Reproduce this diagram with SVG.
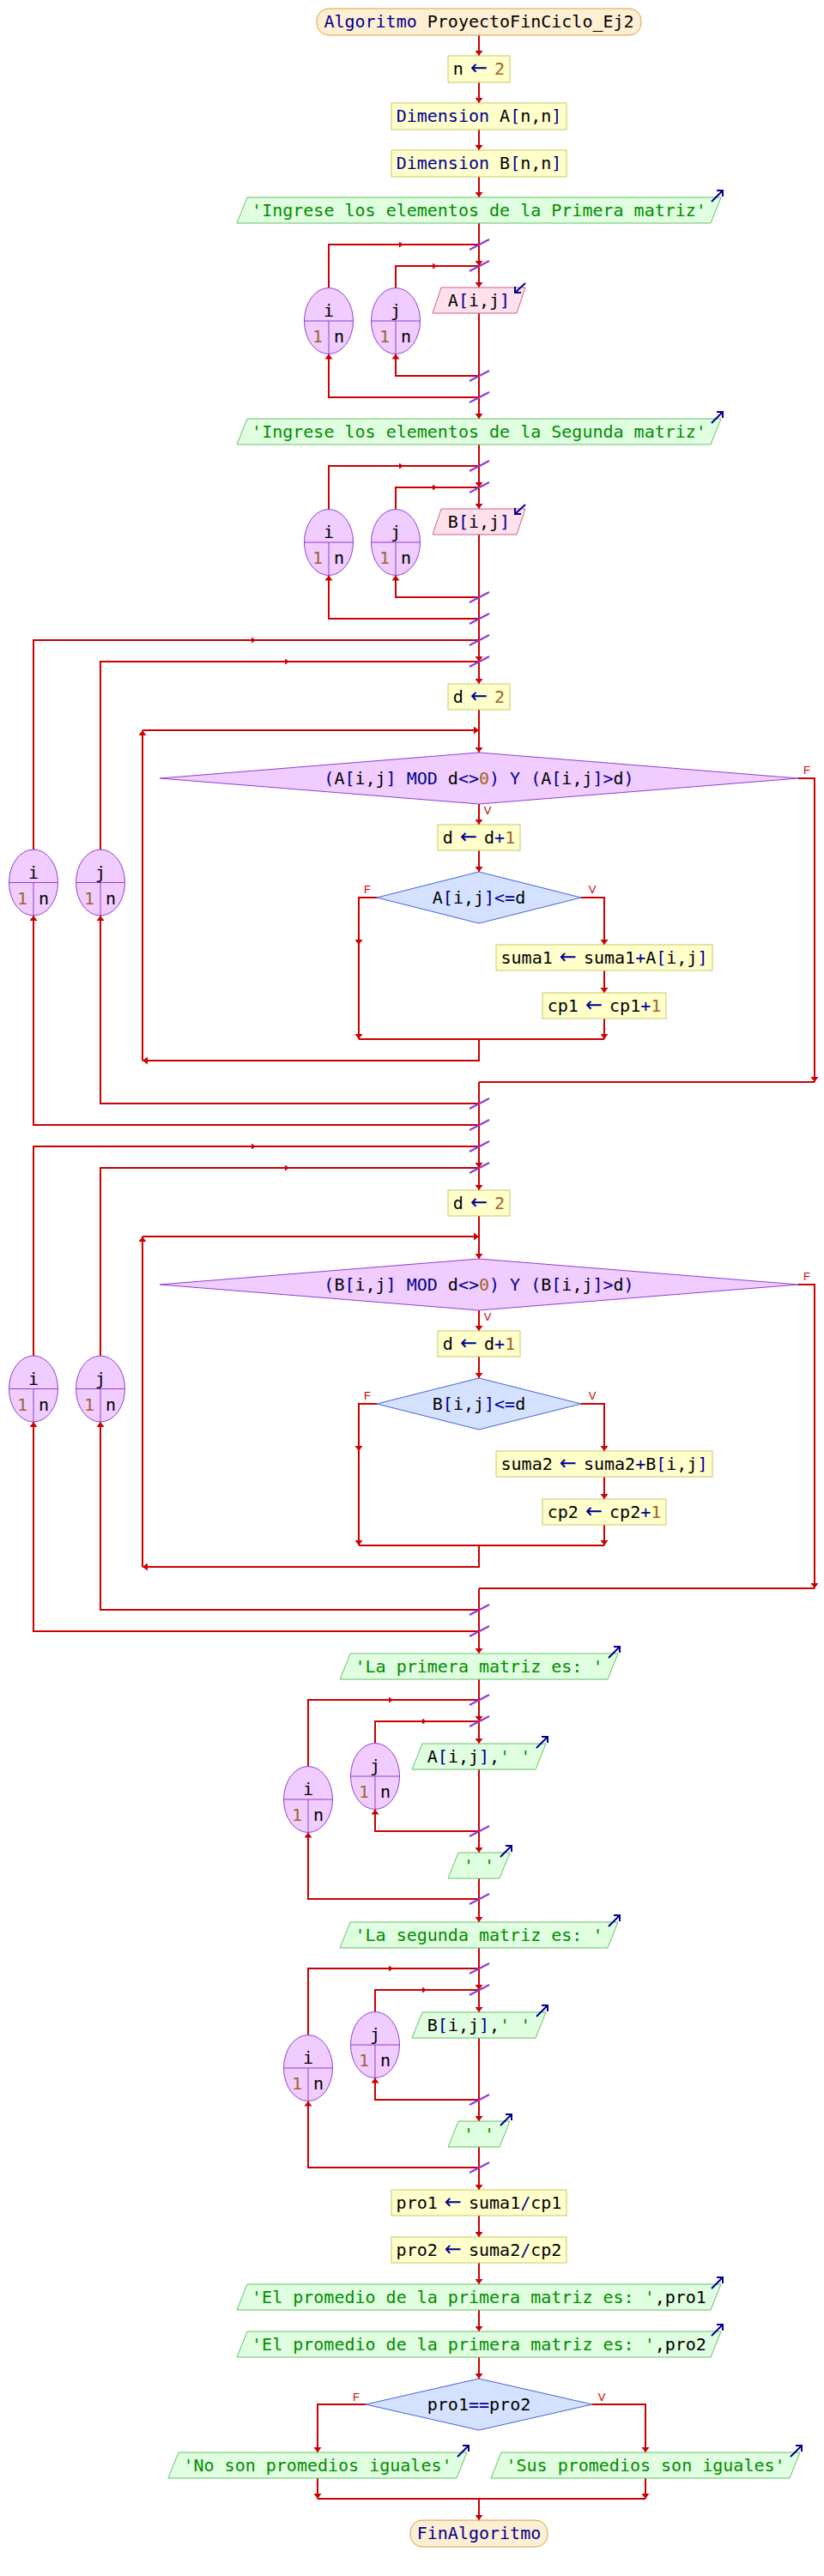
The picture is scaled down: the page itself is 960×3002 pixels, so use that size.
<svg xmlns="http://www.w3.org/2000/svg" xmlns:xlink="http://www.w3.org/1999/xlink" width="960" height="3002" viewBox="0 0 960 3002">
<defs>
<style>
.t{font-family:"DejaVu Sans Mono","Liberation Mono",monospace;font-size:20px;text-anchor:middle;fill:#000}
.k{fill:#000090}
.ar{font-family:"DejaVu Sans","Liberation Sans",sans-serif;font-size:24px;fill:#000090}
.s{fill:#008c00}
.n{fill:#a06428}
.lb{font-family:"Liberation Sans","DejaVu Sans",sans-serif;font-size:13px;fill:#cc0000;text-anchor:middle}
.c path{fill:none;stroke:#cc0000;stroke-width:2}
.box{fill:#ffffcc;stroke:#c8c864;stroke-width:1}
.term{fill:#ffefd2;stroke:#d4a050;stroke-width:1}
.out{fill:#e0ffe0;stroke:#66c066;stroke-width:1}
.inp{fill:#ffe0ec;stroke:#c8648c;stroke-width:1}
.dp{fill:#f0ccff;stroke:#9040d0;stroke-width:1}
.db{fill:#d4e2ff;stroke:#4664d2;stroke-width:1}
.ov{fill:#f0ccff;stroke:#9040d0;stroke-width:1}
.ovl{stroke:#9040d0;stroke-width:1}
.tk{stroke:#9038d0;stroke-width:2}
.io{fill:none;stroke:#000090;stroke-width:2}
</style>
<marker id="a" viewBox="0 0 6 9" refX="6" refY="4.5" markerWidth="6" markerHeight="9" markerUnits="userSpaceOnUse" orient="auto"><path d="M0,0 L6,4.5 L0,9 z" fill="#cc0000"/></marker>
<marker id="m" viewBox="0 0 5 7" refX="5" refY="3.5" markerWidth="5" markerHeight="7" markerUnits="userSpaceOnUse" orient="auto"><path d="M0,0 L5,3.5 L0,7 z" fill="#cc0000"/></marker>
<g id="oa"><path class="io" d="M-11,5 L2,-8 M-5,-8 H2 V-1"/></g>
<g id="ia"><path class="io" d="M0,-5 L-12,6 M-12,-1 V6 H-5"/></g>
<line id="tick" x1="-11" y1="6" x2="12" y2="-6" class="tk"/>
</defs>
<rect width="960" height="3002" fill="#ffffff"/>

<g id="connectors" class="c">
<path d="M558,41 V65" marker-end="url(#a)"/>
<path d="M558,96 V120" marker-end="url(#a)"/>
<path d="M558,151 V175" marker-end="url(#a)"/>
<path d="M558,206 V230" marker-end="url(#a)"/>
<path d="M558,260 V310" marker-end="url(#a)"/>
<path d="M558,310 V335" marker-end="url(#a)"/>
<path d="M558,365 V488" marker-end="url(#a)"/>
<path d="M383,335.5 V285 H470" marker-end="url(#m)"/><path d="M470,285 H558"/>
<path d="M461,335.5 V310 H509" marker-end="url(#m)"/><path d="M509,310 H558"/>
<path d="M558,438 H461 V412.5" marker-end="url(#a)"/>
<path d="M558,463 H383 V412.5" marker-end="url(#a)"/>
<path d="M558,518 V568" marker-end="url(#a)"/>
<path d="M558,568 V593" marker-end="url(#a)"/>
<path d="M558,623 V771" marker-end="url(#a)"/>
<path d="M383,593.5 V543 H470" marker-end="url(#m)"/><path d="M470,543 H558"/>
<path d="M461,593.5 V568 H509" marker-end="url(#m)"/><path d="M509,568 H558"/>
<path d="M558,696 H461 V670.5" marker-end="url(#a)"/>
<path d="M558,721 H383 V670.5" marker-end="url(#a)"/>
<path d="M39,990 V746 H298" marker-end="url(#m)"/><path d="M298,746 H558"/>
<path d="M117,990 V771 H337" marker-end="url(#m)"/><path d="M337,771 H558"/>
<path d="M558,771 V797" marker-end="url(#a)"/>
<path d="M558,827 V877" marker-end="url(#a)"/>
<path d="M558,937 V961" marker-end="url(#a)"/>
<path d="M558,991 V1016" marker-end="url(#a)"/>
<path d="M439,1046 H418 V1101" marker-end="url(#a)"/>
<path d="M418,1101 V1211" marker-end="url(#a)"/>
<path d="M677,1046 H704 V1101" marker-end="url(#a)"/>
<path d="M704,1131 V1157" marker-end="url(#a)"/>
<path d="M704,1187 V1211" marker-end="url(#a)"/>
<path d="M418,1211 H704"/>
<path d="M558,1211 V1236 H166" marker-end="url(#a)"/>
<path d="M166,1236 V851" marker-end="url(#a)"/>
<path d="M166,851 H558" marker-end="url(#a)"/>
<path d="M930,907 H949 V1261" marker-end="url(#a)"/>
<path d="M949,1261 H558"/>
<path d="M558,1261 V1361" marker-end="url(#a)"/>
<path d="M558,1286 H117 V1067" marker-end="url(#a)"/>
<path d="M558,1311 H39 V1067" marker-end="url(#a)"/>
<path d="M39,1580 V1336 H298" marker-end="url(#m)"/><path d="M298,1336 H558"/>
<path d="M117,1580 V1361 H337" marker-end="url(#m)"/><path d="M337,1361 H558"/>
<path d="M558,1361 V1387" marker-end="url(#a)"/>
<path d="M558,1417 V1467" marker-end="url(#a)"/>
<path d="M558,1527 V1551" marker-end="url(#a)"/>
<path d="M558,1581 V1606" marker-end="url(#a)"/>
<path d="M439,1636 H418 V1691" marker-end="url(#a)"/>
<path d="M418,1691 V1801" marker-end="url(#a)"/>
<path d="M677,1636 H704 V1691" marker-end="url(#a)"/>
<path d="M704,1721 V1747" marker-end="url(#a)"/>
<path d="M704,1777 V1801" marker-end="url(#a)"/>
<path d="M418,1801 H704"/>
<path d="M558,1801 V1826 H166" marker-end="url(#a)"/>
<path d="M166,1826 V1441" marker-end="url(#a)"/>
<path d="M166,1441 H558" marker-end="url(#a)"/>
<path d="M930,1497 H949 V1851" marker-end="url(#a)"/>
<path d="M949,1851 H558"/>
<path d="M558,1851 V1927" marker-end="url(#a)"/>
<path d="M558,1876 H117 V1657" marker-end="url(#a)"/>
<path d="M558,1901 H39 V1657" marker-end="url(#a)"/>
<path d="M558,1957 V2006" marker-end="url(#a)"/>
<path d="M558,2006 V2032" marker-end="url(#a)"/>
<path d="M558,2062 V2159" marker-end="url(#a)"/>
<path d="M558,2189 V2240" marker-end="url(#a)"/>
<path d="M359,2058.5 V1981 H458" marker-end="url(#m)"/><path d="M458,1981 H558"/>
<path d="M437,2031.5 V2006 H497" marker-end="url(#m)"/><path d="M497,2006 H558"/>
<path d="M558,2134 H437 V2108.5" marker-end="url(#a)"/>
<path d="M558,2213 H359 V2135.5" marker-end="url(#a)"/>
<path d="M558,2270 V2319" marker-end="url(#a)"/>
<path d="M558,2319 V2345" marker-end="url(#a)"/>
<path d="M558,2375 V2472" marker-end="url(#a)"/>
<path d="M558,2502 V2552" marker-end="url(#a)"/>
<path d="M359,2371.5 V2294 H458" marker-end="url(#m)"/><path d="M458,2294 H558"/>
<path d="M437,2344.5 V2319 H497" marker-end="url(#m)"/><path d="M497,2319 H558"/>
<path d="M558,2447 H437 V2421.5" marker-end="url(#a)"/>
<path d="M558,2526 H359 V2448.5" marker-end="url(#a)"/>
<path d="M558,2582 V2607" marker-end="url(#a)"/>
<path d="M558,2637 V2662" marker-end="url(#a)"/>
<path d="M558,2692 V2717" marker-end="url(#a)"/>
<path d="M558,2747 V2772" marker-end="url(#a)"/>
<path d="M426,2802 H370 V2858" marker-end="url(#a)"/>
<path d="M690,2802 H752 V2858" marker-end="url(#a)"/>
<path d="M370,2888 V2912" marker-end="url(#a)"/>
<path d="M752,2888 V2912" marker-end="url(#a)"/>
<path d="M370,2912 H752"/>
<path d="M558,2912 V2937" marker-end="url(#a)"/>
</g>

<g id="ticks">
<use href="#tick" x="558" y="285"/><use href="#tick" x="558" y="310"/><use href="#tick" x="558" y="438"/><use href="#tick" x="558" y="463"/>
<use href="#tick" x="558" y="543"/><use href="#tick" x="558" y="568"/><use href="#tick" x="558" y="696"/><use href="#tick" x="558" y="721"/>
<use href="#tick" x="558" y="746"/><use href="#tick" x="558" y="771"/><use href="#tick" x="558" y="1286"/><use href="#tick" x="558" y="1311"/>
<use href="#tick" x="558" y="1336"/><use href="#tick" x="558" y="1361"/><use href="#tick" x="558" y="1876"/><use href="#tick" x="558" y="1901"/>
<use href="#tick" x="558" y="1981"/><use href="#tick" x="558" y="2006"/><use href="#tick" x="558" y="2134"/><use href="#tick" x="558" y="2213"/>
<use href="#tick" x="558" y="2294"/><use href="#tick" x="558" y="2319"/><use href="#tick" x="558" y="2447"/><use href="#tick" x="558" y="2526"/>
</g>

<g id="labels">
<text class="lb" x="568" y="949">V</text>
<text class="lb" x="940" y="902">F</text>
<text class="lb" x="428" y="1041">F</text>
<text class="lb" x="690" y="1041">V</text>
<text class="lb" x="568" y="1539">V</text>
<text class="lb" x="940" y="1492">F</text>
<text class="lb" x="428" y="1631">F</text>
<text class="lb" x="690" y="1631">V</text>
<text class="lb" x="415" y="2798">F</text>
<text class="lb" x="701" y="2798">V</text>
</g>

<g id="start"><rect class="term" x="369" y="10" width="378" height="31" rx="14"/><text class="t" x="558" y="32"><tspan class="k">Algoritmo</tspan> ProyectoFinCiclo_Ej2</text></g>
<g id="n-assign"><rect class="box" x="522" y="65" width="72" height="31"/><text class="t" x="558" y="87">n <tspan class="ar" dx="-4">←</tspan><tspan dx="-4"> </tspan><tspan class="n">2</tspan></text></g>
<g id="dimA"><rect class="box" x="456" y="120" width="204" height="31"/><text class="t" x="558" y="142"><tspan class="k">Dimension</tspan> A<tspan class="k">[</tspan>n,n<tspan class="k">]</tspan></text></g>
<g id="dimB"><rect class="box" x="456" y="175" width="204" height="31"/><text class="t" x="558" y="197"><tspan class="k">Dimension</tspan> B<tspan class="k">[</tspan>n,n<tspan class="k">]</tspan></text></g>

<g id="out-ingrese1"><polygon class="out" points="276,260 288,230 840,230 828,260"/><text class="t s" x="558" y="252">'Ingrese los elementos de la Primera matriz'</text><use href="#oa" x="840" y="230"/></g>
<g id="loop1-i"><ellipse class="ov" cx="383" cy="374" rx="28.5" ry="38.5"/><line class="ovl" x1="354.5" y1="374" x2="411.5" y2="374"/><line class="ovl" x1="383" y1="374" x2="383" y2="412.5"/><text class="t" x="383" y="369">i</text><text class="t n" x="370" y="399">1</text><text class="t" x="395" y="399">n</text></g>
<g id="loop1-j"><ellipse class="ov" cx="461" cy="374" rx="28.5" ry="38.5"/><line class="ovl" x1="432.5" y1="374" x2="489.5" y2="374"/><line class="ovl" x1="461" y1="374" x2="461" y2="412.5"/><text class="t" x="461" y="369">j</text><text class="t n" x="448" y="399">1</text><text class="t" x="473" y="399">n</text></g>
<g id="read-A"><polygon class="inp" points="504,365 514,335 612,335 602,365"/><text class="t" x="558" y="357">A<tspan class="k">[</tspan>i,j<tspan class="k">]</tspan></text><use href="#ia" x="612" y="335"/></g>

<g id="out-ingrese2"><polygon class="out" points="276,518 288,488 840,488 828,518"/><text class="t s" x="558" y="510">'Ingrese los elementos de la Segunda matriz'</text><use href="#oa" x="840" y="488"/></g>
<g id="loop2-i"><ellipse class="ov" cx="383" cy="632" rx="28.5" ry="38.5"/><line class="ovl" x1="354.5" y1="632" x2="411.5" y2="632"/><line class="ovl" x1="383" y1="632" x2="383" y2="670.5"/><text class="t" x="383" y="627">i</text><text class="t n" x="370" y="657">1</text><text class="t" x="395" y="657">n</text></g>
<g id="loop2-j"><ellipse class="ov" cx="461" cy="632" rx="28.5" ry="38.5"/><line class="ovl" x1="432.5" y1="632" x2="489.5" y2="632"/><line class="ovl" x1="461" y1="632" x2="461" y2="670.5"/><text class="t" x="461" y="627">j</text><text class="t n" x="448" y="657">1</text><text class="t" x="473" y="657">n</text></g>
<g id="read-B"><polygon class="inp" points="504,623 514,593 612,593 602,623"/><text class="t" x="558" y="615">B<tspan class="k">[</tspan>i,j<tspan class="k">]</tspan></text><use href="#ia" x="612" y="593"/></g>

<g id="loopA-i"><ellipse class="ov" cx="39" cy="1028.5" rx="28.5" ry="38.5"/><line class="ovl" x1="10.5" y1="1028.5" x2="67.5" y2="1028.5"/><line class="ovl" x1="39" y1="1028.5" x2="39" y2="1067"/><text class="t" x="39" y="1023.5">i</text><text class="t n" x="26" y="1053.5">1</text><text class="t" x="51" y="1053.5">n</text></g>
<g id="loopA-j"><ellipse class="ov" cx="117" cy="1028.5" rx="28.5" ry="38.5"/><line class="ovl" x1="88.5" y1="1028.5" x2="145.5" y2="1028.5"/><line class="ovl" x1="117" y1="1028.5" x2="117" y2="1067"/><text class="t" x="117" y="1023.5">j</text><text class="t n" x="104" y="1053.5">1</text><text class="t" x="129" y="1053.5">n</text></g>
<g id="dA-init"><rect class="box" x="522" y="797" width="72" height="30"/><text class="t" x="558" y="819">d <tspan class="ar" dx="-4">←</tspan><tspan dx="-4"> </tspan><tspan class="n">2</tspan></text></g>
<g id="whileA"><polygon class="dp" points="186,907 558,877 930,907 558,937"/><text class="t" x="558" y="914"><tspan class="k">(</tspan>A<tspan class="k">[</tspan>i,j<tspan class="k">] MOD </tspan>d<tspan class="k">&lt;&gt;</tspan><tspan class="n">0</tspan><tspan class="k">) Y (</tspan>A<tspan class="k">[</tspan>i,j<tspan class="k">]&gt;</tspan>d<tspan class="k">)</tspan></text></g>
<g id="dA-inc"><rect class="box" x="510" y="961" width="96" height="30"/><text class="t" x="558" y="983">d <tspan class="ar" dx="-4">←</tspan><tspan dx="-4"> </tspan>d<tspan class="k">+</tspan><tspan class="n">1</tspan></text></g>
<g id="ifA"><polygon class="db" points="439,1046 558,1016 677,1046 558,1076"/><text class="t" x="558" y="1053">A<tspan class="k">[</tspan>i,j<tspan class="k">]&lt;=</tspan>d</text></g>
<g id="suma1"><rect class="box" x="578" y="1101" width="252" height="30"/><text class="t" x="704" y="1123">suma1 <tspan class="ar" dx="-4">←</tspan><tspan dx="-4"> </tspan>suma1<tspan class="k">+</tspan>A<tspan class="k">[</tspan>i,j<tspan class="k">]</tspan></text></g>
<g id="cp1"><rect class="box" x="632" y="1157" width="144" height="30"/><text class="t" x="704" y="1179">cp1 <tspan class="ar" dx="-4">←</tspan><tspan dx="-4"> </tspan>cp1<tspan class="k">+</tspan><tspan class="n">1</tspan></text></g>

<g id="loopB-i"><ellipse class="ov" cx="39" cy="1618.5" rx="28.5" ry="38.5"/><line class="ovl" x1="10.5" y1="1618.5" x2="67.5" y2="1618.5"/><line class="ovl" x1="39" y1="1618.5" x2="39" y2="1657"/><text class="t" x="39" y="1613.5">i</text><text class="t n" x="26" y="1643.5">1</text><text class="t" x="51" y="1643.5">n</text></g>
<g id="loopB-j"><ellipse class="ov" cx="117" cy="1618.5" rx="28.5" ry="38.5"/><line class="ovl" x1="88.5" y1="1618.5" x2="145.5" y2="1618.5"/><line class="ovl" x1="117" y1="1618.5" x2="117" y2="1657"/><text class="t" x="117" y="1613.5">j</text><text class="t n" x="104" y="1643.5">1</text><text class="t" x="129" y="1643.5">n</text></g>
<g id="dB-init"><rect class="box" x="522" y="1387" width="72" height="30"/><text class="t" x="558" y="1409">d <tspan class="ar" dx="-4">←</tspan><tspan dx="-4"> </tspan><tspan class="n">2</tspan></text></g>
<g id="whileB"><polygon class="dp" points="186,1497 558,1467 930,1497 558,1527"/><text class="t" x="558" y="1504"><tspan class="k">(</tspan>B<tspan class="k">[</tspan>i,j<tspan class="k">] MOD </tspan>d<tspan class="k">&lt;&gt;</tspan><tspan class="n">0</tspan><tspan class="k">) Y (</tspan>B<tspan class="k">[</tspan>i,j<tspan class="k">]&gt;</tspan>d<tspan class="k">)</tspan></text></g>
<g id="dB-inc"><rect class="box" x="510" y="1551" width="96" height="30"/><text class="t" x="558" y="1573">d <tspan class="ar" dx="-4">←</tspan><tspan dx="-4"> </tspan>d<tspan class="k">+</tspan><tspan class="n">1</tspan></text></g>
<g id="ifB"><polygon class="db" points="439,1636 558,1606 677,1636 558,1666"/><text class="t" x="558" y="1643">B<tspan class="k">[</tspan>i,j<tspan class="k">]&lt;=</tspan>d</text></g>
<g id="suma2"><rect class="box" x="578" y="1691" width="252" height="30"/><text class="t" x="704" y="1713">suma2 <tspan class="ar" dx="-4">←</tspan><tspan dx="-4"> </tspan>suma2<tspan class="k">+</tspan>B<tspan class="k">[</tspan>i,j<tspan class="k">]</tspan></text></g>
<g id="cp2"><rect class="box" x="632" y="1747" width="144" height="30"/><text class="t" x="704" y="1769">cp2 <tspan class="ar" dx="-4">←</tspan><tspan dx="-4"> </tspan>cp2<tspan class="k">+</tspan><tspan class="n">1</tspan></text></g>

<g id="out-primera"><polygon class="out" points="396,1957 408,1927 720,1927 708,1957"/><text class="t s" x="558" y="1949">'La primera matriz es: '</text><use href="#oa" x="720" y="1927"/></g>
<g id="loopC-i"><ellipse class="ov" cx="359" cy="2097" rx="28.5" ry="38.5"/><line class="ovl" x1="330.5" y1="2097" x2="387.5" y2="2097"/><line class="ovl" x1="359" y1="2097" x2="359" y2="2135.5"/><text class="t" x="359" y="2092">i</text><text class="t n" x="346" y="2122">1</text><text class="t" x="371" y="2122">n</text></g>
<g id="loopC-j"><ellipse class="ov" cx="437" cy="2070" rx="28.5" ry="38.5"/><line class="ovl" x1="408.5" y1="2070" x2="465.5" y2="2070"/><line class="ovl" x1="437" y1="2070" x2="437" y2="2108.5"/><text class="t" x="437" y="2065">j</text><text class="t n" x="424" y="2095">1</text><text class="t" x="449" y="2095">n</text></g>
<g id="out-A"><polygon class="out" points="480,2062 492,2032 636,2032 624,2062"/><text class="t" x="558" y="2054">A<tspan class="k">[</tspan>i,j<tspan class="k">]</tspan>,<tspan class="s">' '</tspan></text><use href="#oa" x="636" y="2032"/></g>
<g id="out-sp1"><polygon class="out" points="522,2189 534,2159 594,2159 582,2189"/><text class="t s" x="558" y="2181">' '</text><use href="#oa" x="594" y="2159"/></g>

<g id="out-segunda"><polygon class="out" points="396,2270 408,2240 720,2240 708,2270"/><text class="t s" x="558" y="2262">'La segunda matriz es: '</text><use href="#oa" x="720" y="2240"/></g>
<g id="loopD-i"><ellipse class="ov" cx="359" cy="2410" rx="28.5" ry="38.5"/><line class="ovl" x1="330.5" y1="2410" x2="387.5" y2="2410"/><line class="ovl" x1="359" y1="2410" x2="359" y2="2448.5"/><text class="t" x="359" y="2405">i</text><text class="t n" x="346" y="2435">1</text><text class="t" x="371" y="2435">n</text></g>
<g id="loopD-j"><ellipse class="ov" cx="437" cy="2383" rx="28.5" ry="38.5"/><line class="ovl" x1="408.5" y1="2383" x2="465.5" y2="2383"/><line class="ovl" x1="437" y1="2383" x2="437" y2="2421.5"/><text class="t" x="437" y="2378">j</text><text class="t n" x="424" y="2408">1</text><text class="t" x="449" y="2408">n</text></g>
<g id="out-B"><polygon class="out" points="480,2375 492,2345 636,2345 624,2375"/><text class="t" x="558" y="2367">B<tspan class="k">[</tspan>i,j<tspan class="k">]</tspan>,<tspan class="s">' '</tspan></text><use href="#oa" x="636" y="2345"/></g>
<g id="out-sp2"><polygon class="out" points="522,2502 534,2472 594,2472 582,2502"/><text class="t s" x="558" y="2494">' '</text><use href="#oa" x="594" y="2472"/></g>

<g id="pro1"><rect class="box" x="456" y="2552" width="204" height="30"/><text class="t" x="558" y="2574">pro1 <tspan class="ar" dx="-4">←</tspan><tspan dx="-4"> </tspan>suma1<tspan class="k">/</tspan>cp1</text></g>
<g id="pro2"><rect class="box" x="456" y="2607" width="204" height="30"/><text class="t" x="558" y="2629">pro2 <tspan class="ar" dx="-4">←</tspan><tspan dx="-4"> </tspan>suma2<tspan class="k">/</tspan>cp2</text></g>
<g id="out-prom1"><polygon class="out" points="276,2692 288,2662 840,2662 828,2692"/><text class="t" x="558" y="2684"><tspan class="s">'El promedio de la primera matriz es: '</tspan>,pro1</text><use href="#oa" x="840" y="2662"/></g>
<g id="out-prom2"><polygon class="out" points="276,2747 288,2717 840,2717 828,2747"/><text class="t" x="558" y="2739"><tspan class="s">'El promedio de la primera matriz es: '</tspan>,pro2</text><use href="#oa" x="840" y="2717"/></g>
<g id="if-igual"><polygon class="db" points="426,2802 558,2772 690,2802 558,2832"/><text class="t" x="558" y="2809">pro1<tspan class="k">==</tspan>pro2</text></g>
<g id="out-no"><polygon class="out" points="196,2888 208,2858 544,2858 532,2888"/><text class="t s" x="370" y="2880">'No son promedios iguales'</text><use href="#oa" x="544" y="2858"/></g>
<g id="out-si"><polygon class="out" points="572,2888 584,2858 932,2858 920,2888"/><text class="t s" x="752" y="2880">'Sus promedios son iguales'</text><use href="#oa" x="932" y="2858"/></g>
<g id="end"><rect class="term" x="478" y="2937" width="160" height="31" rx="14"/><text class="t k" x="558" y="2959">FinAlgoritmo</text></g>
</svg>
